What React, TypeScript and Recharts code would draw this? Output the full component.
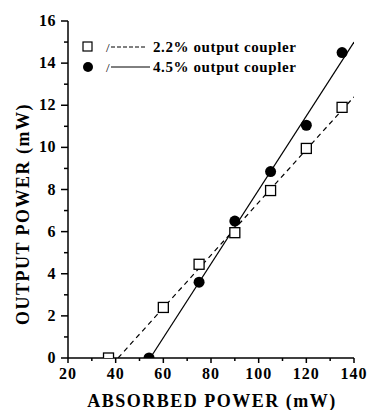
import React from "react";
import { ScatterChart, Scatter, XAxis, YAxis } from "recharts";

const absorbed22 = [37, 60, 75, 90, 105, 120, 135];
const output22 = [0, 2.4, 4.45, 5.95, 7.95, 9.95, 11.9];
const absorbed45 = [54, 75, 90, 105, 120, 135];
const output45 = [0, 3.6, 6.5, 8.85, 11.05, 14.5];

// linear fits (end points)
const fit22X = [41, 140];
const fit22Y = [0, 12.4];
const fit45X = [54.5, 140];
const fit45Y = [0, 15];

const xTicks = [20, 30, 40, 50, 60, 70, 80, 90, 100, 110, 120, 130, 140];
const yTicks = [0, 1, 2, 3, 4, 5, 6, 7, 8, 9, 10, 11, 12, 13, 14, 15, 16];

const toPoints = (xs: number[], ys: number[]) => xs.map((x, i) => ({ x, y: ys[i] }));

const pts22 = toPoints(absorbed22, output22);
const pts45 = toPoints(absorbed45, output45);
const line22 = toPoints(fit22X, fit22Y);
const line45 = toPoints(fit45X, fit45Y);

const FONT = "Liberation Serif, DejaVu Serif, Times New Roman, serif";
const boldText = (size: number, spacing = 0) => ({
  fontFamily: FONT,
  fontWeight: "bold" as const,
  fontSize: size,
  letterSpacing: spacing,
  fill: "#000",
});

const BottomTick = (props: any) => {
  const { x, y, payload } = props;
  const major = payload.value % 20 === 0;
  return (
    <g>
      <line x1={x} y1={y} x2={x} y2={y + (major ? 5 : 3)} stroke="#000" strokeWidth={1.5} />
      {major && (
        <text x={x} y={y + 21} textAnchor="middle" style={boldText(16, 1)}>
          {payload.value}
        </text>
      )}
    </g>
  );
};

const LeftTick = (props: any) => {
  const { x, y, payload } = props;
  const major = payload.value % 2 === 0;
  return (
    <g>
      <line x1={x} y1={y} x2={x - (major ? 7 : 4)} y2={y} stroke="#000" strokeWidth={1.5} />
      {major && (
        <text x={x - 12} y={y + 5} textAnchor="end" style={boldText(16, 0.5)}>
          {payload.value}
        </text>
      )}
    </g>
  );
};

const TopTick = (props: any) => {
  const { x, y } = props;
  return <line x1={x} y1={y} x2={x} y2={y + 5} stroke="#000" strokeWidth={1.5} />;
};

const RightTick = (props: any) => {
  const { x, y, payload } = props;
  const major = payload.value % 2 === 0;
  return <line x1={x} y1={y} x2={x - (major ? 5 : 3)} y2={y} stroke="#000" strokeWidth={1.5} />;
};

const HollowSquare = (props: any) => (
  <rect x={props.cx - 5} y={props.cy - 5} width={10} height={10} fill="#fff" stroke="#000" strokeWidth={1.3} />
);

const FilledCircle = (props: any) => <circle cx={props.cx} cy={props.cy} r={5.5} fill="#000" />;

const NoDot = () => <g />;

const XTitle = () => (
  <text x={212} y={407} textAnchor="middle" style={boldText(18, 1.5)}>
    ABSORBED POWER (mW)
  </text>
);

const YTitle = () => (
  <text x={0} y={0} textAnchor="middle" transform="translate(29, 214) rotate(-90)" style={boldText(18, 1.5)}>
    OUTPUT POWER (mW)
  </text>
);

const LegendBox = () => (
  <svg width={240} height={40} style={{ position: "absolute", left: 80, top: 38 }}>
    <rect x={3} y={4} width={9} height={9} fill="#fff" stroke="#000" strokeWidth={1.2} />
    <text x={26} y={14} style={{ fontFamily: FONT, fontSize: 13, fill: "#000" }}>/</text>
    <line x1={31} y1={9} x2={66} y2={9} stroke="#000" strokeWidth={1} strokeDasharray="4 2" />
    <text x={73} y={14} style={boldText(15, 0.6)}>
      2.2% output coupler
    </text>
    <circle cx={8} cy={29} r={5} fill="#000" />
    <text x={26} y={34} style={{ fontFamily: FONT, fontSize: 13, fill: "#000" }}>/</text>
    <line x1={31} y1={29} x2={70} y2={29} stroke="#000" strokeWidth={1} />
    <text x={73} y={34} style={boldText(15, 0.6)}>
      4.5% output coupler
    </text>
  </svg>
);

export default function App() {
  return (
    <div style={{ position: "absolute", left: 0, top: 0, width: 367, height: 410, background: "#fff" }}>
      <ScatterChart width={367} height={410} margin={{ top: 21, right: 13, bottom: 0, left: 0 }}>
        <XAxis
          type="number"
          dataKey="x"
          domain={[20, 140]}
          ticks={xTicks}
          allowDataOverflow
          interval={0}
          height={52}
          tickSize={0}
          tickMargin={0}
          tickLine={false}
          tick={<BottomTick />}
          axisLine={{ stroke: "#000", strokeWidth: 1.5 }}
          label={{ content: () => <XTitle /> }}
        />
        <XAxis
          xAxisId="top"
          orientation="top"
          type="number"
          dataKey="x"
          domain={[20, 140]}
          ticks={xTicks}
          allowDataOverflow
          interval={0}
          height={0}
          tickSize={0}
          tickMargin={0}
          tickLine={false}
          tick={<TopTick />}
          axisLine={{ stroke: "#000", strokeWidth: 1.5 }}
        />
        <YAxis
          type="number"
          dataKey="y"
          domain={[0, 16]}
          ticks={yTicks}
          allowDataOverflow
          interval={0}
          width={68}
          tickSize={0}
          tickMargin={0}
          tickLine={false}
          tick={<LeftTick />}
          axisLine={{ stroke: "#000", strokeWidth: 1.5 }}
          label={{ content: () => <YTitle /> }}
        />
        <YAxis
          yAxisId="right"
          orientation="right"
          type="number"
          dataKey="y"
          domain={[0, 16]}
          ticks={yTicks}
          allowDataOverflow
          interval={0}
          width={0}
          tickSize={0}
          tickMargin={0}
          tickLine={false}
          tick={<RightTick />}
          axisLine={{ stroke: "#000", strokeWidth: 1.5 }}
        />
        <Scatter data={line22} line={{ stroke: "#000", strokeWidth: 1.2, strokeDasharray: "5 4" }} shape={<NoDot />} isAnimationActive={false} />
        <Scatter data={line45} line={{ stroke: "#000", strokeWidth: 1.2 }} shape={<NoDot />} isAnimationActive={false} />
        <Scatter xAxisId="top" yAxisId="right" data={[]} shape={<NoDot />} isAnimationActive={false} />
        <Scatter data={pts22} shape={<HollowSquare />} isAnimationActive={false} />
        <Scatter data={pts45} shape={<FilledCircle />} isAnimationActive={false} />
      </ScatterChart>
      <LegendBox />
    </div>
  );
}
